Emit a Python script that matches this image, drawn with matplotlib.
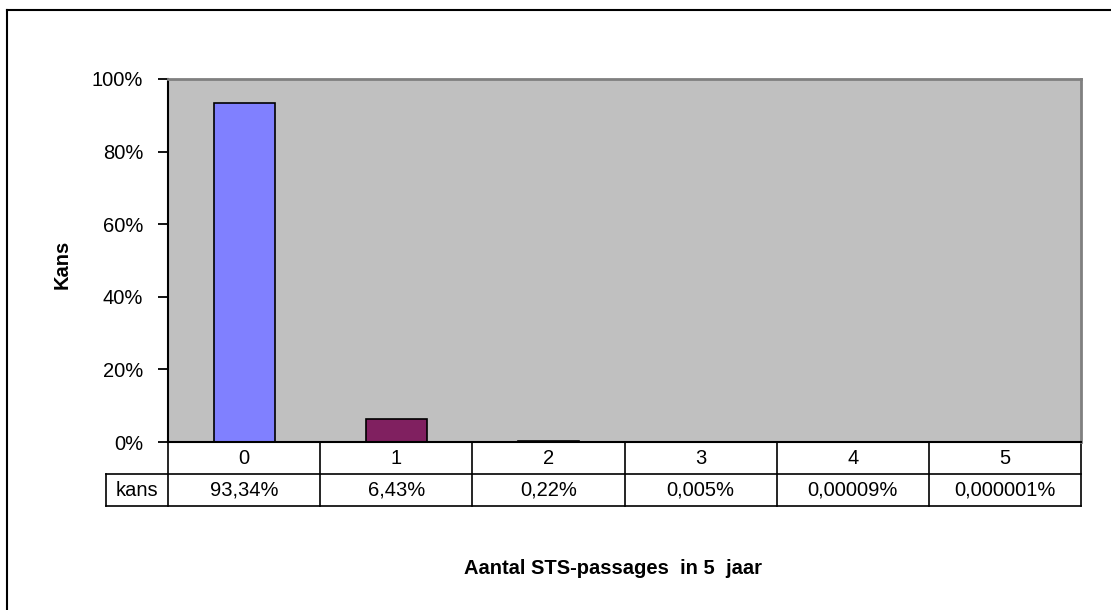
import matplotlib.pyplot as plt
import matplotlib.transforms as mtransforms

plt.rcParams['font.family'] = ['Liberation Sans', 'DejaVu Sans']

categories = ['0', '1', '2', '3', '4', '5']
kans = [93.34, 6.43, 0.22, 0.005, 0.00009, 0.000001]
kans_labels = ['93,34%', '6,43%', '0,22%', '0,005%', '0,00009%', '0,000001%']
bar_colors = ['#8080FF', '#802060', '#FFFFC0', '#A0E0E0', '#600080', '#FF8080']
yticks = [0, 20, 40, 60, 80, 100]

fs = 14.5

fig = plt.figure(figsize=(11.11, 6.10), dpi=100)
ax = fig.add_axes([168 / 1111, 1 - 442 / 610, 913 / 1111, 363 / 610])
ax.set_facecolor('#C0C0C0')

x = list(range(len(categories)))
ax.bar(x, kans, width=0.4, color=bar_colors, edgecolor='black', linewidth=1.2)

ax.set_xlim(-0.5, len(categories) - 0.5)
ax.set_ylim(0, 100)
ax.set_yticks(yticks)
ax.set_yticklabels([f'{v}%' for v in yticks], fontsize=fs)
ax.tick_params(axis='y', direction='out', length=7, width=1.3, pad=11)
ax.set_xticks([])

for s in ['left', 'bottom']:
    ax.spines[s].set_color('black')
    ax.spines[s].set_linewidth(1.5)
for s in ['top', 'right']:
    ax.spines[s].set_color('#808080')
    ax.spines[s].set_linewidth(2)

# data table under the axis
trans = mtransforms.blended_transform_factory(ax.transData, ax.transAxes)
row_h = 32 / 363
col_w = 913 / 6
left_label = -0.5 - 62 / col_w
for i in range(len(categories) + 1):
    ax.plot([i - 0.5, i - 0.5], [0, -2 * row_h], color='black', lw=1.2,
            transform=trans, clip_on=False)
ax.plot([left_label, left_label], [-row_h, -2 * row_h], color='black', lw=1.2,
        transform=trans, clip_on=False)
for yy in [-row_h, -2 * row_h]:
    ax.plot([left_label, len(categories) - 0.5], [yy, yy], color='black', lw=1.2,
            transform=trans, clip_on=False)

for i, (c, lab) in enumerate(zip(categories, kans_labels)):
    ax.text(i, -0.5 * row_h, c, ha='center', va='center', fontsize=fs,
            transform=trans)
    ax.text(i, -1.5 * row_h, lab, ha='center', va='center', fontsize=fs,
            transform=trans)
ax.text((left_label - 0.5) / 2, -1.5 * row_h, 'kans', ha='center', va='center',
        fontsize=fs, transform=trans)

fig.text(62 / 1111, 1 - 264 / 610, 'Kans', rotation=90, ha='center', va='center',
         fontsize=fs, fontweight='bold')
fig.text(613 / 1111, 1 - 568 / 610, 'Aantal STS-passages  in 5  jaar',
         ha='center', va='center', fontsize=fs, fontweight='bold')

# chart area border (left and top visible)
fig.add_artist(plt.Line2D([7 / 1111, 7 / 1111], [0, 1 - 10 / 610], color='black',
                          lw=1.5, transform=fig.transFigure))
fig.add_artist(plt.Line2D([7 / 1111, 1], [1 - 10 / 610, 1 - 10 / 610], color='black',
                          lw=1.5, transform=fig.transFigure))

plt.savefig('out.png', dpi=100)
